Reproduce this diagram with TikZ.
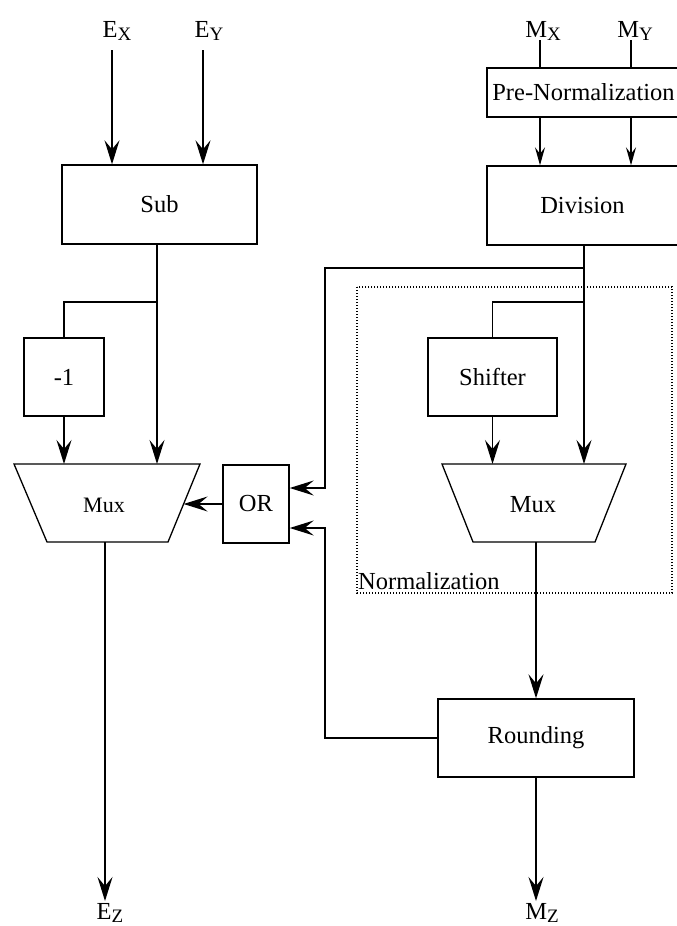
\documentclass[tikz,border=0pt]{standalone}
\usepackage{fontspec}
\setmainfont{Liberation Serif}
\usetikzlibrary{arrows.meta,calc}
\newcommand{\lowsub}[1]{\raisebox{-3pt}{\fontsize{19}{19}\selectfont #1}}
\begin{document}
\begin{tikzpicture}[x=1pt,y=-1pt,
  every node/.style={font=\fontsize{24.5}{28}\selectfont},
  blk/.style={draw, line width=1.4pt, inner sep=0pt},
  ln/.style={line width=1.3pt},
  arr/.style={ln, -{Stealth[length=24pt,width=15pt,inset=9pt]}},
  sarr/.style={ln, -{Stealth[length=18pt,width=10pt,inset=6.5pt]}},
  lbl/.style={anchor=base, inner sep=0pt},
  dotbox/.style={line width=1.2pt, dash pattern=on 1.3pt off 1.7pt}]
\useasboundingbox (0,0) rectangle (677,926);
\clip (0,0) rectangle (677,926);

% labels
\node[lbl] (ex) at (117,37) {E\lowsub{X}};
\node[lbl] (ey) at (209,37) {E\lowsub{Y}};
\node[lbl] (mx) at (543,37) {M\lowsub{X}};
\node[lbl] (my) at (635,37) {M\lowsub{Y}};
\node[lbl] (ez) at (110,919) {E\lowsub{Z}};
\node[lbl] (mz) at (542,919) {M\lowsub{Z}};

% blocks
\node[blk, minimum width=195pt, minimum height=79pt] (sub) at (159.5,204.5) {Sub};
\node[blk, minimum width=80pt, minimum height=78pt] (m1) at (64,377) {-1};
\node[blk, minimum width=66pt, minimum height=78pt] (or) at (256,504) {OR};
\node[blk, minimum width=129pt, minimum height=78pt] (sh) at (492.5,377) {Shifter};
\node[blk, minimum width=193pt, minimum height=49pt] (pre) at (583.5,92.5) {Pre-Normalization};
\node[blk, minimum width=191pt, minimum height=79pt] (div) at (582.5,205.5) {Division};
\node[blk, minimum width=196pt, minimum height=78pt] (rnd) at (536,738) {Rounding};

% muxes
\draw[ln] (14,464) coordinate (a1tl) -- (200,464) coordinate (a1tr)
  -- (168,542) coordinate (a1br) -- (47,542) coordinate (a1bl) -- cycle;
\node[font=\fontsize{22}{26}\selectfont] (mux1) at (104,505) {Mux};
\draw[ln] (442,464) coordinate (a2tl) -- (626,464) coordinate (a2tr)
  -- (595,542) coordinate (a2br) -- (473,542) coordinate (a2bl) -- cycle;
\node (mux2) at (533,505) {Mux};

% normalization frame
\draw[dotbox] (357,287) coordinate (nf1) rectangle (672,593) coordinate (nf2);
\node[anchor=base west, inner sep=0pt] (nlab) at (358,589) {Normalization};

% coordinates
\coordinate (exs) at (112,50);
\coordinate (eys) at (203,50);
\coordinate (sj) at (157,302);
\coordinate (m1in) at (183.6,504);
\coordinate (m1out) at (105,542);
\coordinate (ezt) at (105,901);
\coordinate (mxs) at (540,40);
\coordinate (mys) at (631,40);
\coordinate (dj1) at (584,268);
\coordinate (dj2) at (584,302);
\coordinate (k1) at (325,488);
\coordinate (k2) at (325,528);
\coordinate (m2out) at (536,542);
\coordinate (mzt) at (536,901);

% left path
\draw[arr] (exs) -- (exs |- sub.north);
\draw[arr] (eys) -- (eys |- sub.north);
\draw[arr] (sj |- sub.south) -- (sj |- a1tl);
\draw[ln] (sj) -| (m1.north);
\draw[arr] (m1.south) -- (m1.south |- a1tl);
\draw[arr] (or.west) -- (m1in);
\draw[arr] (m1out) -- (ezt);

% right path
\draw[ln] (mxs) -- (mxs |- pre.north);
\draw[ln] (mys) -- (mys |- pre.north);
\draw[sarr] (mxs |- pre.south) -- (mxs |- div.north);
\draw[sarr] (mys |- pre.south) -- (mys |- div.north);
\draw[arr] (dj1 |- div.south) -- (dj1 |- a2tl);
\draw[arr] (dj1) -| (k1) -- (k1 -| or.east);
\draw[ln] (dj2) -| (sh.north);
\draw[arr] (sh.south) -- (sh.south |- a2tl);
\draw[arr] (m2out) -- (m2out |- rnd.north);
\draw[arr] (rnd.west) -| (k2) -- (k2 -| or.east);
\draw[arr] (rnd.south -| mzt) -- (mzt);
\end{tikzpicture}
\end{document}
